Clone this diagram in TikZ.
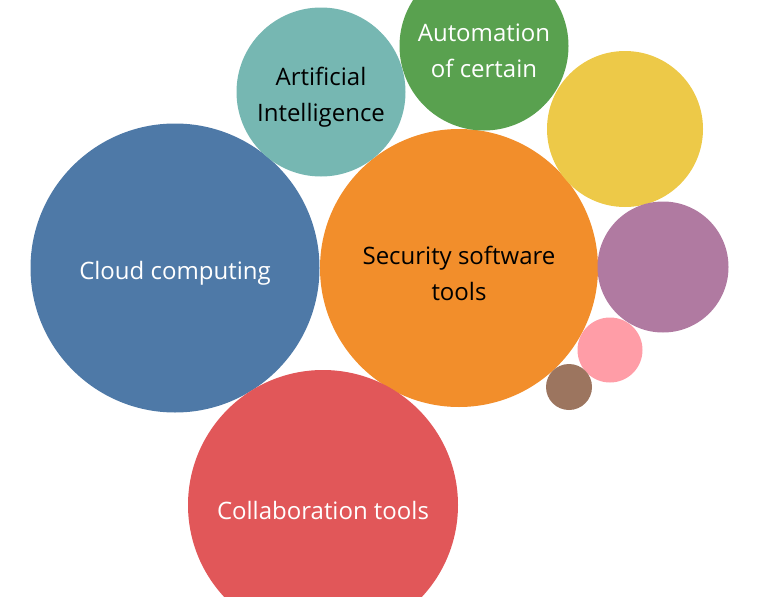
\documentclass[tikz,border=0pt]{standalone}
\usepackage{fontspec}
\setmainfont{Open Sans}
\usepackage{xcolor}
\definecolor{cloudblue}{HTML}{4E79A7}
\definecolor{secorange}{HTML}{F28E2B}
\definecolor{collabred}{HTML}{E15759}
\definecolor{aiteal}{HTML}{76B7B2}
\definecolor{autogreen}{HTML}{59A14F}
\definecolor{bubyellow}{HTML}{EDC948}
\definecolor{bubpurple}{HTML}{B07AA1}
\definecolor{bubpink}{HTML}{FF9DA7}
\definecolor{bubbrown}{HTML}{9C755F}
\begin{document}
\begin{tikzpicture}[x=1pt, y=-1pt,
        bubble/.style={circle, inner sep=0pt},
        bubbletext/.style={align=center, yshift=-5pt,
            font=\fontsize{24}{36}\selectfont}]
        \useasboundingbox (0, 0) rectangle (763, 597);
        \clip (0, 0) rectangle (763, 597);
        % Big bubbles
        \node [bubble, fill=cloudblue, minimum size=289pt,
            label={[bubbletext, text=white]center:Cloud computing}] (cloud) at (175, 268) {};
        \node [bubble, fill=secorange, minimum size=278pt,
            label={[bubbletext, text=black]center:Security software\\tools}] (security) at (459, 268) {};
        \node [bubble, fill=collabred, minimum size=270pt,
            label={[bubbletext, text=white]center:Collaboration tools}] (collab) at (323, 505) {};
        % Top bubbles
        \node [bubble, fill=aiteal, minimum size=169pt,
            label={[bubbletext, text=black]center:Artificial\\Intelligence}] (ai) at (321, 92) {};
        \node [bubble, fill=autogreen, minimum size=169pt,
            label={[bubbletext, text=white]center:Automation\\of certain}] (automation) at (484, 46) {};
        % % Small bubbles
        \node [bubble, fill=bubyellow, minimum size=156pt] (yellow) at (625, 129) {};
        \node [bubble, fill=bubpurple, minimum size=131pt] (purple) at (663, 267) {};
        \node [bubble, fill=bubpink, minimum size=65pt] (pink) at (610, 350) {};
        \node [bubble, fill=bubbrown, minimum size=46pt] (brown) at (569, 387) {};
    \end{tikzpicture}
\end{document}
